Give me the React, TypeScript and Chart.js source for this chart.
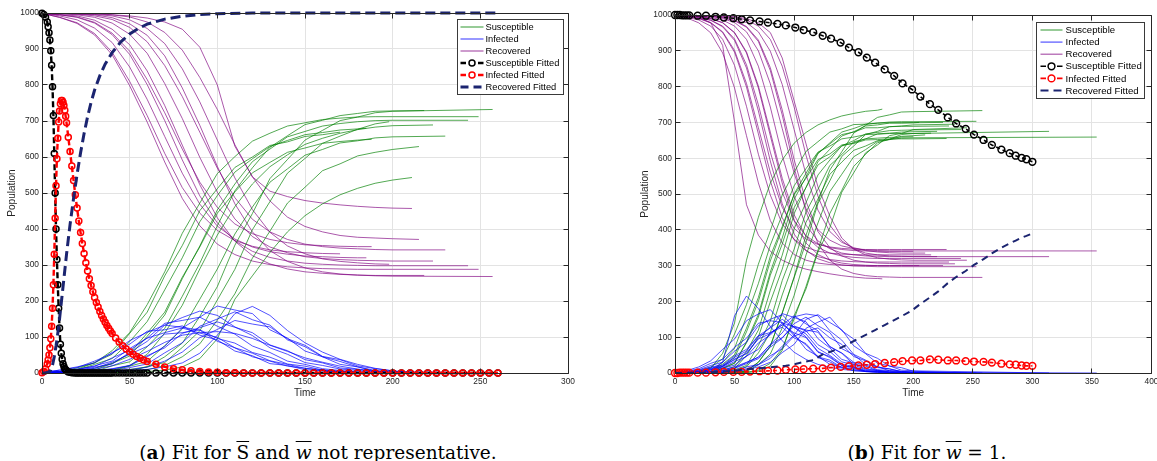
import React, { useEffect, useRef } from "react";
import { Chart, registerables } from "chart.js";

Chart.register(...registerables);

// ---------- look ----------
const SANS = '"Liberation Sans", Arial, Helvetica, sans-serif';
const INK = "#262626";
const GRID = "#e3e3e3";

const GREEN = "rgba(0,128,0,0.68)";
const BLUE = "rgba(0,0,255,0.68)";
const PURPLE = "rgba(128,0,128,0.66)";
const BLACK = "#000000";
const RED = "#ff0000";
const NAVY = "#1b2470";

const legendLabels = [
  "Susceptible",
  "Infected",
  "Recovered",
  "Susceptible Fitted",
  "Infected Fitted",
  "Recovered Fitted",
];

// stochastic runs are sampled every runStep time units; the last sample sits at the run's end time
const runStep = 10;

// ---------- panel (a) data ----------
const leftRunEnds = [211, 249, 185, 243, 170, 218, 223, 230, 257, 198, 215, 188];

const leftRecovered = [
  [999, 999, 998, 997, 995, 992, 986, 975, 955, 905, 800, 630, 545, 505, 490, 479, 472, 467, 463, 460, 458, 457],
  [999, 988, 971, 939, 884, 798, 697, 586, 485, 409, 358, 329, 311, 301, 295, 292, 290, 289, 288, 288, 288, 288],
  [999, 992, 981, 958, 918, 850, 760, 657, 555, 469, 408, 372, 350, 337, 330, 325, 323, 321, 320, 320],
  [999, 995, 988, 972, 940, 885, 801, 701, 592, 492, 417, 367, 338, 321, 311, 305, 302, 300, 299, 298, 298, 298],
  [999, 988, 973, 943, 891, 810, 715, 610, 515, 444, 396, 368, 352, 342, 337, 334, 332, 331],
  [999, 996, 992, 980, 955, 912, 839, 743, 633, 523, 431, 366, 326, 303, 289, 281, 277, 274, 272, 271, 271, 271],
  [999, 998, 995, 988, 972, 941, 888, 804, 707, 599, 502, 428, 379, 350, 334, 323, 318, 315, 313, 312, 311, 311],
  [999, 999, 997, 992, 982, 960, 920, 854, 768, 669, 569, 487, 427, 392, 371, 358, 351, 347, 345, 343, 342, 342],
  [999, 999, 997, 995, 987, 970, 938, 881, 792, 688, 574, 470, 392, 340, 310, 292, 281, 275, 272, 270, 269, 268],
  [999, 999, 999, 996, 992, 981, 957, 915, 845, 753, 647, 542, 454, 391, 353, 331, 317, 310, 306, 303, 302],
  [999, 999, 999, 999, 995, 989, 975, 946, 897, 821, 732, 634, 545, 478, 433, 407, 392, 382, 377, 375, 373, 371],
  [999, 995, 989, 974, 944, 894, 815, 723, 622, 530, 460, 414, 387, 371, 362, 356, 354, 352, 351, 351],
];

const leftInfected = [
  [1, 1, 2, 3, 4, 6, 10, 17, 28, 55, 105, 165, 185, 160, 118, 84, 58, 38, 24, 13, 6, 0],
  [1, 8, 15, 33, 54, 90, 113, 133, 127, 119, 88, 70, 45, 33, 19, 13, 6, 3, 1, 0, 0, 0],
  [1, 5, 11, 18, 42, 63, 97, 112, 125, 111, 99, 70, 55, 34, 24, 13, 9, 4, 2, 0],
  [1, 4, 9, 20, 33, 68, 97, 138, 146, 155, 130, 108, 75, 57, 33, 24, 12, 7, 3, 1, 0, 0],
  [1, 8, 17, 28, 57, 80, 116, 120, 131, 105, 92, 61, 48, 26, 21, 9, 6, 0],
  [1, 3, 7, 16, 25, 57, 88, 133, 154, 172, 160, 128, 104, 70, 52, 29, 21, 11, 7, 2, 1, 0],
  [1, 2, 4, 10, 20, 38, 60, 85, 105, 112, 115, 110, 96, 77, 60, 42, 30, 19, 11, 5, 2, 0],
  [1, 1, 3, 6, 12, 21, 48, 70, 110, 126, 142, 127, 112, 78, 62, 37, 28, 14, 10, 4, 2, 0],
  [1, 1, 3, 5, 11, 20, 45, 74, 125, 155, 186, 175, 165, 120, 97, 61, 45, 24, 17, 7, 4, 0],
  [1, 1, 1, 4, 6, 15, 25, 56, 84, 130, 150, 170, 148, 133, 92, 73, 45, 32, 17, 5, 0],
  [1, 1, 1, 1, 4, 9, 16, 33, 58, 98, 121, 146, 136, 128, 95, 77, 46, 37, 20, 12, 6, 0],
  [1, 3, 8, 13, 30, 52, 74, 108, 112, 120, 96, 83, 57, 44, 25, 19, 8, 5, 2, 0],
];

const leftSusceptible = [
  [0, 0, 0, 0, 1, 2, 4, 8, 17, 40, 95, 205, 270, 335, 392, 437, 470, 495, 513, 527, 536, 543],
  [0, 4, 14, 28, 62, 112, 190, 281, 388, 472, 554, 601, 644, 666, 686, 695, 704, 708, 711, 712, 712, 712],
  [0, 3, 8, 24, 40, 87, 143, 231, 320, 420, 493, 558, 595, 629, 646, 662, 668, 675, 678, 680],
  [0, 1, 3, 8, 27, 47, 102, 161, 262, 353, 453, 525, 587, 622, 656, 671, 686, 693, 698, 701, 702, 702],
  [0, 4, 10, 29, 52, 110, 169, 270, 354, 451, 512, 571, 600, 632, 642, 657, 662, 669],
  [0, 1, 1, 4, 20, 31, 73, 124, 213, 305, 409, 506, 570, 627, 659, 690, 702, 715, 721, 727, 728, 729],
  [0, 0, 1, 2, 8, 21, 52, 111, 188, 289, 383, 462, 525, 573, 606, 635, 652, 666, 676, 683, 687, 689],
  [0, 0, 0, 2, 6, 19, 32, 76, 122, 205, 289, 386, 461, 530, 567, 605, 621, 639, 645, 653, 656, 658],
  [0, 0, 0, 0, 2, 10, 17, 45, 83, 157, 240, 355, 443, 540, 593, 647, 674, 701, 711, 723, 727, 732],
  [0, 0, 0, 0, 2, 4, 18, 29, 71, 117, 203, 288, 398, 476, 555, 596, 638, 658, 677, 692, 698],
  [0, 0, 0, 0, 1, 2, 9, 21, 45, 81, 147, 220, 319, 394, 472, 516, 562, 581, 603, 613, 621, 629],
  [0, 2, 3, 13, 26, 54, 111, 169, 266, 350, 444, 503, 556, 585, 613, 625, 638, 643, 647, 649],
];

const fitTimesA = [
  0, 1, 2, 3, 3.5, 4, 4.5, 5, 5.5, 6, 6.5, 7, 7.5, 8, 8.5, 9, 9.5, 10, 10.5, 11, 11.5, 12, 12.5, 13, 13.5, 14,
  15, 16, 17, 18, 19, 20, 21, 22, 23, 24, 25, 26, 27, 28, 29, 30, 31, 32, 33, 34, 35, 36, 37, 38, 39, 40,
  42, 44, 46, 48, 50, 52, 54, 56, 58, 60,
  65, 70, 75, 80, 85, 90, 95, 100, 105, 110, 115, 120, 125, 130, 135, 140, 145, 150, 155, 160,
  165, 170, 175, 180, 185, 190, 195, 200, 205, 210, 215, 220, 225, 230, 235, 240, 245, 250, 255, 260,
];

const fitSusceptibleA = [
  999, 996, 988, 975, 962, 945, 925, 895, 855, 795, 715, 610, 500, 400, 315, 245, 180, 125, 80, 55, 38, 26, 18, 12, 9, 6,
  3, 2, 1, 1, 0, 0, 0, 0, 0, 0, 0, 0, 0, 0, 0, 0, 0, 0, 0, 0, 0, 0, 0, 0, 0, 0,
  0, 0, 0, 0, 0, 0, 0, 0, 0, 0,
  0, 0, 0, 0, 0, 0, 0, 0, 0, 0, 0, 0, 0, 0, 0, 0, 0, 0, 0, 0,
  0, 0, 0, 0, 0, 0, 0, 0, 0, 0, 0, 0, 0, 0, 0, 0, 0, 0, 0, 0,
];

const fitInfectedA = [
  1, 4, 12, 25, 36, 50, 70, 95, 130, 180, 245, 330, 430, 520, 595, 652, 697, 728, 748, 757, 757, 752, 743, 730, 713, 695,
  655, 615, 575, 535, 495, 458, 422, 390, 360, 332, 306, 283, 262, 243, 226, 210, 196, 183, 171, 160, 150, 141, 132, 124, 117, 110,
  97, 86, 76, 67, 59, 52, 46, 41, 36, 32,
  24, 17, 12, 9, 6, 4, 3, 2, 1, 1, 0, 0, 0, 0, 0, 0, 0, 0, 0, 0,
  0, 0, 0, 0, 0, 0, 0, 0, 0, 0, 0, 0, 0, 0, 0, 0, 0, 0, 0, 0,
];

const fitRecoveredTimesA = [
  0, 2, 4, 5, 6, 7, 8, 9, 10, 11, 12, 13, 14, 15, 16, 18, 20, 22, 24, 26, 28, 30, 33, 36, 40, 45, 50, 55, 60, 70,
  80, 90, 100, 120, 150, 200, 260,
];
const fitRecoveredA = [
  0, 0, 3, 8, 22, 45, 75, 110, 150, 195, 240, 285, 330, 372, 412, 485, 552, 612, 665, 712, 752, 786, 826, 858, 890, 920,
  942, 957, 969, 983, 991, 996, 998, 1000, 1000, 1000, 1000,
];

// ---------- panel (b) data ----------
const rightRunEnds = [174, 205, 215, 230, 253, 200, 240, 225, 220, 354, 235, 210, 314, 245, 258, 228];

const rightRecovered = [
  [999, 998, 994, 978, 915, 700, 470, 385, 340, 315, 300, 290, 283, 277, 272, 268, 265, 264, 263],
  [999, 992, 978, 950, 894, 796, 663, 531, 426, 363, 331, 315, 307, 303, 301, 300, 300, 300, 300, 300, 300, 300],
  [999, 994, 986, 969, 932, 859, 745, 611, 497, 417, 373, 351, 340, 335, 332, 331, 330, 330, 330, 330, 330, 330],
  [999, 996, 990, 978, 951, 896, 799, 668, 537, 434, 372, 341, 325, 317, 313, 311, 310, 310, 310, 310, 310, 310],
  [999, 997, 993, 985, 967, 929, 852, 732, 592, 473, 388, 343, 319, 308, 302, 299, 298, 297, 297, 297, 297, 297],
  [999, 997, 994, 986, 969, 933, 861, 749, 617, 505, 426, 383, 361, 350, 345, 342, 341, 340, 340, 340, 340],
  [999, 998, 996, 990, 979, 951, 897, 802, 673, 544, 442, 381, 351, 335, 327, 323, 321, 320, 320, 320, 320, 320],
  [999, 998, 996, 990, 978, 950, 894, 796, 663, 531, 426, 363, 331, 315, 307, 303, 301, 300, 300, 300, 300, 300],
  [999, 998, 997, 993, 986, 969, 932, 857, 743, 608, 494, 413, 369, 347, 335, 330, 327, 326, 325, 325, 325, 325],
  [999, 999, 998, 996, 990, 979, 953, 900, 808, 683, 558, 459, 400, 371, 355, 348, 344, 342, 341, 341, 341, 341],
  [999, 999, 998, 997, 993, 985, 968, 930, 853, 735, 596, 479, 395, 350, 327, 315, 310, 307, 306, 305, 305, 305],
  [999, 999, 999, 998, 996, 990, 979, 953, 899, 806, 680, 554, 455, 395, 365, 350, 342, 338, 336, 335, 335, 335],
  [999, 999, 999, 998, 997, 994, 986, 969, 932, 857, 743, 608, 494, 413, 369, 347, 335, 330, 327, 326, 325, 325],
  [999, 999, 999, 999, 998, 996, 990, 978, 951, 880, 760, 640, 520, 438, 377, 346, 330, 322, 318, 316, 315, 315],
  [999, 999, 998, 997, 993, 984, 966, 926, 845, 721, 574, 450, 362, 315, 290, 278, 272, 269, 268, 267, 267, 267],
  [999, 996, 991, 979, 953, 901, 809, 685, 561, 463, 404, 374, 359, 352, 348, 346, 345, 345, 345, 345, 345, 345],
];

const rightInfected = [
  [1, 2, 4, 9, 30, 160, 215, 180, 130, 90, 58, 38, 24, 16, 10, 7, 4, 2, 0],
  [1, 7, 17, 34, 66, 95, 146, 165, 177, 140, 108, 66, 47, 24, 17, 6, 5, 2, 1, 1, 1, 0],
  [1, 5, 12, 27, 38, 72, 97, 139, 146, 141, 104, 78, 43, 31, 14, 10, 4, 3, 1, 1, 1, 0],
  [1, 3, 9, 21, 30, 61, 86, 132, 150, 163, 128, 101, 60, 43, 21, 16, 5, 5, 2, 1, 1, 0],
  [1, 2, 6, 14, 20, 44, 61, 104, 126, 150, 127, 109, 69, 49, 25, 18, 7, 5, 2, 1, 1, 0],
  [1, 2, 5, 12, 18, 39, 55, 95, 110, 135, 112, 99, 58, 46, 21, 15, 5, 4, 2, 1, 0],
  [1, 2, 4, 9, 18, 37, 54, 97, 128, 166, 155, 143, 96, 70, 38, 28, 11, 8, 3, 2, 1, 0],
  [1, 2, 3, 9, 15, 32, 46, 84, 106, 140, 129, 118, 79, 60, 31, 23, 9, 7, 2, 2, 1, 0],
  [1, 2, 3, 6, 13, 22, 47, 66, 112, 134, 160, 137, 118, 73, 55, 24, 19, 6, 5, 2, 1, 0],
  [1, 1, 2, 4, 9, 17, 30, 44, 79, 99, 131, 120, 114, 74, 56, 30, 22, 9, 7, 3, 2, 0],
  [1, 1, 2, 3, 6, 13, 26, 40, 72, 97, 138, 156, 132, 113, 68, 51, 24, 18, 6, 5, 2, 0],
  [1, 1, 1, 2, 3, 8, 17, 24, 48, 68, 103, 116, 126, 98, 80, 46, 34, 15, 12, 4, 2, 0],
  [1, 1, 1, 2, 3, 5, 12, 23, 41, 75, 106, 150, 163, 141, 121, 76, 54, 27, 20, 8, 6, 0],
  [1, 1, 1, 1, 2, 3, 9, 17, 30, 57, 80, 125, 142, 156, 118, 95, 55, 41, 19, 15, 5, 0],
  [1, 1, 2, 3, 6, 14, 29, 44, 80, 112, 157, 165, 160, 118, 92, 52, 36, 17, 11, 4, 3, 0],
  [1, 3, 8, 17, 22, 48, 66, 104, 113, 128, 98, 82, 45, 36, 15, 13, 4, 3, 1, 1, 1, 0],
];

const rightSusceptible = [
  [0, 0, 2, 13, 55, 140, 315, 435, 530, 595, 642, 672, 693, 707, 718, 725, 731, 734, 737],
  [0, 1, 5, 16, 40, 109, 191, 304, 397, 497, 561, 619, 646, 673, 682, 694, 695, 698, 699, 699, 699, 700],
  [0, 1, 2, 4, 30, 69, 158, 250, 357, 442, 523, 571, 617, 634, 654, 659, 666, 667, 669, 669, 669, 670],
  [0, 1, 1, 1, 19, 43, 115, 200, 313, 403, 500, 558, 615, 640, 666, 673, 685, 685, 688, 689, 689, 690],
  [0, 1, 1, 1, 13, 27, 87, 164, 282, 377, 485, 548, 612, 643, 673, 683, 695, 698, 701, 702, 702, 703],
  [0, 1, 1, 2, 13, 28, 84, 156, 273, 360, 462, 518, 581, 604, 634, 643, 654, 656, 658, 659, 660],
  [0, 0, 0, 1, 3, 12, 49, 101, 199, 290, 403, 476, 553, 595, 635, 649, 668, 672, 677, 678, 679, 680],
  [0, 0, 1, 1, 7, 18, 60, 120, 231, 329, 445, 519, 590, 625, 662, 674, 690, 693, 698, 698, 699, 700],
  [0, 0, 0, 1, 1, 9, 21, 77, 145, 258, 346, 450, 513, 580, 610, 646, 654, 668, 670, 673, 674, 675],
  [0, 0, 0, 0, 1, 4, 17, 56, 113, 218, 311, 421, 486, 555, 589, 622, 634, 649, 652, 656, 657, 659],
  [0, 0, 0, 0, 1, 2, 6, 30, 75, 168, 266, 365, 473, 537, 605, 634, 666, 675, 688, 690, 693, 695],
  [0, 0, 0, 0, 1, 2, 4, 23, 53, 126, 217, 330, 419, 507, 555, 604, 624, 647, 652, 661, 663, 665],
  [0, 0, 0, 0, 0, 1, 2, 8, 27, 68, 151, 242, 343, 446, 510, 577, 611, 643, 653, 666, 669, 675],
  [0, 0, 0, 0, 0, 1, 1, 5, 19, 63, 160, 235, 338, 406, 505, 559, 615, 637, 663, 669, 680, 685],
  [0, 0, 0, 0, 1, 2, 5, 30, 75, 167, 269, 385, 478, 567, 618, 670, 692, 714, 721, 729, 730, 733],
  [0, 1, 1, 4, 25, 51, 125, 211, 326, 409, 498, 544, 596, 612, 637, 641, 651, 652, 654, 654, 654, 655],
];

const fitTimesB = [
  0, 2, 4, 6, 8, 10, 12, 19, 26, 34, 41, 49, 56, 63, 71, 78, 86, 93, 101, 108, 116, 124, 131, 139, 146, 154,
  161, 168, 176, 184, 191, 199, 206, 214, 221, 229, 236, 244, 251, 259, 266, 274, 281, 286, 291, 295, 300,
];
const fitSusceptibleB = [
  1000, 1000, 1000, 999, 999, 999, 999, 998, 998, 995, 993, 991, 988, 985, 982, 979, 975, 971, 965, 958, 952, 942,
  934, 923, 909, 896, 881, 867, 848, 830, 809, 792, 772, 751, 735, 714, 697, 682, 666, 651, 637, 624, 614, 607,
  601, 597, 590,
];
const fitInfectedB = [
  0, 0, 1, 1, 1, 1, 1, 1, 1, 2, 3, 3, 3, 4, 5, 6, 7, 9, 10, 11, 12, 13, 15, 17, 19, 21, 23, 25, 28, 30, 33, 35, 35,
  38, 37, 35, 35, 33, 32, 31, 29, 26, 24, 23, 21, 20, 20,
];
const fitRecoveredB = [
  0, 0, 0, 0, 0, 0, 0, 1, 1, 3, 4, 6, 9, 11, 13, 15, 18, 20, 25, 31, 36, 52, 60, 70, 82, 96, 108, 120, 134, 148,
  160, 175, 193, 211, 228, 251, 268, 285, 302, 318, 334, 350, 362, 370, 378, 383, 390,
];

// ---------- panel layout / styling ----------
const panelA = {
  left: 0,
  width: 600,
  height: 405,
  padTop: 13,
  padRight: 32,
  yAxisWidth: 42,
  xAxisHeight: 32,
  yTitleOffset: 6,
  xMax: 300,
  ends: leftRunEnds,
  sus: leftSusceptible,
  inf: leftInfected,
  rec: leftRecovered,
  fitTimes: fitTimesA,
  fitSus: fitSusceptibleA,
  fitInf: fitInfectedA,
  fitRecTimes: fitRecoveredTimesA,
  fitRec: fitRecoveredA,
  fitLine: 2.4,
  fitDash: [6, 3],
  markerRadius: 3,
  markerWidth: 1.5,
  recLine: 3,
  recDash: [10, 5],
  legend: { insetRight: 5, insetTop: 6, font: 9.3, padL: 3, padR: 4.5, padV: 7.5, rowH: 12, sampleW: 23, gap: 2 },
};

const panelB = {
  left: 610,
  width: 547,
  height: 405,
  padTop: 15,
  padRight: 3,
  yAxisWidth: 65,
  xAxisHeight: 32,
  yTitleOffset: 29,
  xMax: 400,
  ends: rightRunEnds,
  sus: rightSusceptible,
  inf: rightInfected,
  rec: rightRecovered,
  fitTimes: fitTimesB,
  fitSus: fitSusceptibleB,
  fitInf: fitInfectedB,
  fitRecTimes: fitTimesB,
  fitRec: fitRecoveredB,
  fitLine: 1.6,
  fitDash: [4, 3],
  markerRadius: 3.4,
  markerWidth: 1.5,
  recLine: 2,
  recDash: [7, 5],
  legend: { insetRight: 7, insetTop: 7, font: 9.6, padL: 4, padR: 3, padV: 7.5, rowH: 12.1, sampleW: 22, gap: 3 },
};

type Panel = typeof panelA;

const runPoints = (values: number[], end: number) =>
  values.map((y, i) => ({ x: i < values.length - 1 ? i * runStep : end, y }));
const timePoints = (times: number[], values: number[]) => values.map((y, i) => ({ x: times[i], y }));

function buildDatasets(p: Panel) {
  const ds: any[] = [];
  const runLine = (data: any, color: string, order: number) => ({
    data,
    borderColor: color,
    borderWidth: 1,
    pointRadius: 0,
    fill: false,
    tension: 0,
    order,
  });
  p.ends.forEach((end, k) => {
    ds.push({ label: legendLabels[0], ...runLine(runPoints(p.sus[k], end), GREEN, 4) });
    ds.push({ label: legendLabels[1], ...runLine(runPoints(p.inf[k], end), BLUE, 3) });
    ds.push({ label: legendLabels[2], ...runLine(runPoints(p.rec[k], end), PURPLE, 5) });
  });
  const fitted = (label: string, data: any, color: string, order: number) => ({
    label,
    data,
    borderColor: color,
    borderWidth: p.fitLine,
    borderDash: p.fitDash,
    pointRadius: p.markerRadius,
    pointBorderWidth: p.markerWidth,
    pointBorderColor: color,
    pointBackgroundColor: "rgba(255,255,255,0)",
    pointStyle: "circle",
    fill: false,
    tension: 0,
    clip: false,
    order,
  });
  ds.push(fitted(legendLabels[3], timePoints(p.fitTimes, p.fitSus), BLACK, 2));
  ds.push(fitted(legendLabels[4], timePoints(p.fitTimes, p.fitInf), RED, 1));
  ds.push({
    label: legendLabels[5],
    data: timePoints(p.fitRecTimes, p.fitRec),
    borderColor: NAVY,
    borderWidth: p.recLine,
    borderDash: p.recDash,
    pointRadius: 0,
    fill: false,
    tension: 0,
    clip: false,
    order: 0,
  });
  return ds;
}

// Box around the axes, inward tick marks and a MATLAB-style legend
function framePlugin(p: Panel) {
  return {
    id: "frame",
    afterDraw(chart: any) {
      const { ctx, chartArea: a } = chart;
      const xs = chart.scales.x;
      const ys = chart.scales.y;
      const al = (v: number) => Math.round(v - 0.5) + 0.5;
      const L = al(a.left);
      const R = al(a.right);
      const T = al(a.top);
      const B = al(a.bottom);
      ctx.save();
      ctx.setLineDash([]);
      ctx.strokeStyle = INK;
      ctx.lineWidth = 1;
      ctx.beginPath();
      ctx.rect(L, T, R - L, B - T);
      const tl = 5;
      xs.ticks.forEach((t: any) => {
        const px = al(xs.getPixelForValue(t.value));
        ctx.moveTo(px, B);
        ctx.lineTo(px, B - tl);
        ctx.moveTo(px, T);
        ctx.lineTo(px, T + tl);
      });
      ys.ticks.forEach((t: any) => {
        const py = al(ys.getPixelForValue(t.value));
        ctx.moveTo(L, py);
        ctx.lineTo(L + tl, py);
        ctx.moveTo(R, py);
        ctx.lineTo(R - tl, py);
      });
      ctx.stroke();

      // legend
      const lg = p.legend;
      ctx.font = `${lg.font}px ${SANS}`;
      const maxW = Math.max(...legendLabels.map((s) => ctx.measureText(s).width));
      const w = lg.padL + lg.sampleW + lg.gap + maxW + lg.padR;
      const h = lg.padV * 2 + lg.rowH * (legendLabels.length - 1);
      const bx = Math.round(a.right - lg.insetRight - w) + 0.5;
      const by = Math.round(a.top + lg.insetTop) + 0.5;
      ctx.fillStyle = "#ffffff";
      ctx.fillRect(bx, by, w, h);
      ctx.strokeStyle = "#3a3a3a";
      ctx.lineWidth = 1;
      ctx.strokeRect(bx, by, Math.round(w), Math.round(h));
      const colors = [GREEN, BLUE, PURPLE, BLACK, RED, NAVY];
      legendLabels.forEach((label, i) => {
        const y = by + lg.padV + i * lg.rowH;
        const x0 = bx + lg.padL;
        const x1 = x0 + lg.sampleW;
        ctx.strokeStyle = colors[i];
        ctx.setLineDash([]);
        if (i < 3) {
          ctx.lineWidth = 1.2;
          ctx.beginPath();
          ctx.moveTo(x0, y);
          ctx.lineTo(x1, y);
          ctx.stroke();
        } else if (i < 5) {
          ctx.lineWidth = p.fitLine;
          ctx.beginPath();
          ctx.moveTo(x0, y);
          ctx.lineTo(x0 + 5.5, y);
          ctx.moveTo(x1 - 5.5, y);
          ctx.lineTo(x1, y);
          ctx.stroke();
          ctx.lineWidth = p.markerWidth;
          ctx.beginPath();
          ctx.arc((x0 + x1) / 2, y, p.markerRadius, 0, Math.PI * 2);
          ctx.stroke();
        } else {
          ctx.lineWidth = p.recLine;
          ctx.beginPath();
          ctx.moveTo(x0, y);
          ctx.lineTo(x0 + 8, y);
          ctx.moveTo(x0 + 13, y);
          ctx.lineTo(x0 + 21, y);
          ctx.stroke();
        }
        ctx.fillStyle = "#000000";
        ctx.textBaseline = "middle";
        ctx.textAlign = "left";
        ctx.fillText(label, x1 + lg.gap, y + 0.5);
      });
      ctx.restore();
    },
  };
}

const plainTick = (v: number | string) => String(v);

function buildConfig(p: Panel): any {
  const tickFont = { family: SANS, size: 8.4 };
  const titleFont = { family: SANS, size: 10 };
  return {
    type: "line",
    data: { datasets: buildDatasets(p) },
    plugins: [framePlugin(p)],
    options: {
      responsive: false,
      animation: false,
      events: [],
      parsing: false,
      normalized: true,
      layout: { padding: { left: 0, top: p.padTop, right: p.padRight, bottom: 0 } },
      plugins: { legend: { display: false }, tooltip: { enabled: false }, title: { display: false } },
      scales: {
        x: {
          type: "linear",
          min: 0,
          max: p.xMax,
          ticks: {
            stepSize: 50,
            font: tickFont,
            color: INK,
            padding: 4,
            maxRotation: 0,
            autoSkip: false,
            callback: plainTick,
          },
          grid: { color: GRID, lineWidth: 1, drawTicks: false },
          border: { display: false },
          title: { display: true, text: "Time", font: titleFont, color: INK, padding: { top: 0, bottom: 6 } },
          afterFit: (s: any) => {
            s.height = p.xAxisHeight;
            s.paddingLeft = 0;
            s.paddingRight = 0;
          },
        },
        y: {
          type: "linear",
          min: 0,
          max: 1000,
          ticks: { stepSize: 100, font: tickFont, color: INK, padding: 3, callback: plainTick },
          grid: { color: GRID, lineWidth: 1, drawTicks: false },
          border: { display: false },
          title: {
            display: true,
            text: "Population",
            font: titleFont,
            color: INK,
            padding: { top: p.yTitleOffset, bottom: 0 },
          },
          afterFit: (s: any) => {
            s.width = p.yAxisWidth;
            s.paddingTop = 0;
            s.paddingBottom = 0;
          },
        },
      },
    },
  };
}

function PanelChart({ panel }: { panel: Panel }) {
  const ref = useRef<HTMLCanvasElement>(null);
  useEffect(() => {
    const canvas = ref.current;
    if (!canvas) return;
    const chart = new Chart(canvas, buildConfig(panel));
    return () => chart.destroy();
  }, [panel]);
  return (
    <canvas
      ref={ref}
      width={panel.width}
      height={panel.height}
      style={{ position: "absolute", left: panel.left, top: 0, width: panel.width, height: panel.height }}
    />
  );
}

const captionStyle: React.CSSProperties = {
  position: "absolute",
  top: 442,
  width: 500,
  textAlign: "center",
  font: '18.5px "DejaVu Serif", serif',
  lineHeight: "22px",
  color: "#000",
  whiteSpace: "nowrap",
};

export default function App() {
  return (
    <div
      style={{
        position: "absolute",
        left: 0,
        top: 0,
        width: 1157,
        height: 461,
        background: "#ffffff",
        overflow: "hidden",
      }}
    >
      <PanelChart panel={panelA} />
      <PanelChart panel={panelB} />
      <div style={{ ...captionStyle, left: 68 }}>
        (<b>a</b>) Fit for <span style={{ textDecoration: "overline" }}>S</span> and{" "}
        <i style={{ textDecoration: "overline" }}>w</i> not representative.
      </div>
      <div style={{ ...captionStyle, left: 677 }}>
        (<b>b</b>) Fit for <i style={{ textDecoration: "overline" }}>w</i> = 1.
      </div>
    </div>
  );
}
